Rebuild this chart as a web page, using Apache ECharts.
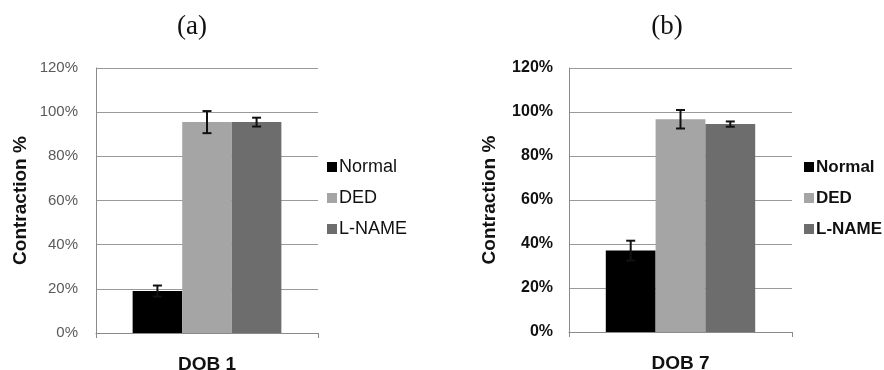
<!DOCTYPE html>
<html>
<head>
<meta charset="utf-8">
<script src="https://cdn.jsdelivr.net/npm/echarts@6/dist/echarts.min.js"></script>
<style>
  html, body { margin: 0; padding: 0; background: #fff; }
  #chart { width: 884px; height: 370px; }
</style>
</head>
<body>
<div id="chart"></div>
<script>
// data
const seriesNames = ["Normal", "DED", "L-NAME"];
const colors = ["#000000", "#a5a5a5", "#6d6d6d"];
const categoriesA = ["DOB 1"];
const categoriesB = ["DOB 7"];
const valuesA = [19, 95.5, 95.5];
const errorsA = [2.5, 5, 2];
const valuesB = [37, 96.7, 94.5];
const errorsB = [4.5, 4.2, 1.2];
const yTicks = [0, 20, 40, 60, 80, 100, 120];

const chart = echarts.init(document.getElementById("chart"));

const barGapRatio = 0.33;

function errorSeries(axisIdx, idx, value, err) {
  return {
    type: "custom",
    xAxisIndex: axisIdx,
    yAxisIndex: axisIdx,
    z: 10,
    silent: true,
    data: [[0, value, err]],
    encode: { x: 0, y: 1 },
    renderItem: function (params, api) {
      const band = api.size([1, 0])[0];
      const barW = band * (1 - barGapRatio) / seriesNames.length;
      const center = api.coord([api.value(0), 0])[0];
      const x = center + (idx - 1) * barW;
      const hi = api.coord([api.value(0), api.value(1) + api.value(2)])[1];
      const lo = api.coord([api.value(0), api.value(1) - api.value(2)])[1];
      const cap = 4.5;
      const st = { stroke: "#111", lineWidth: 2 };
      return {
        type: "group",
        children: [
          { type: "line", shape: { x1: x, y1: hi, x2: x, y2: lo }, style: st },
          { type: "line", shape: { x1: x - cap, y1: hi, x2: x + cap, y2: hi }, style: st },
          { type: "line", shape: { x1: x - cap, y1: lo, x2: x + cap, y2: lo }, style: st },
        ],
      };
    },
  };
}

function barSeries(axisIdx, values) {
  return seriesNames.map((name, i) => ({
    name: name,
    type: "bar",
    xAxisIndex: axisIdx,
    yAxisIndex: axisIdx,
    barGap: "0%",
    barCategoryGap: "33%",
    itemStyle: { color: colors[i] },
    data: [values[i]],
  }));
}

function yAxis(gridIdx, bold, labelColor, margin, nameGap) {
  return {
    type: "value",
    gridIndex: gridIdx,
    min: yTicks[0],
    max: yTicks[yTicks.length - 1],
    interval: 20,
    name: "Contraction %",
    nameLocation: "middle",
    nameGap: nameGap,
    nameTextStyle: {
      fontFamily: "Liberation Sans",
      fontWeight: "bold",
      fontSize: 19,
      color: "#111",
    },
    axisLine: { show: true, lineStyle: { color: "#8a8a8a", width: 1 } },
    axisTick: { show: false },
    axisLabel: {
      formatter: "{value}%",
      fontFamily: "Liberation Sans",
      fontSize: bold ? 16 : 15,
      fontWeight: bold ? "bold" : "normal",
      color: labelColor,
      margin: margin,
    },
    splitLine: { lineStyle: { color: "#9a9a9a", width: 1 } },
  };
}

function xAxis(gridIdx, cats) {
  return {
    type: "category",
    gridIndex: gridIdx,
    data: cats,
    axisLine: { lineStyle: { color: "#8a8a8a", width: 1 } },
    axisTick: { show: true, length: 5, lineStyle: { color: "#8a8a8a" } },
    axisLabel: {
      fontFamily: "Liberation Sans",
      fontWeight: "bold",
      fontSize: 19,
      color: "#111",
      margin: 22,
    },
  };
}

function legend(left, bold, fontSize) {
  return {
    orient: "vertical",
    left: left,
    top: 153,
    itemWidth: 10,
    itemHeight: 10,
    itemGap: 13,
    icon: "rect",
    selectedMode: false,
    data: seriesNames,
    textStyle: {
      fontFamily: "Liberation Sans",
      fontSize: fontSize,
      fontWeight: bold ? "bold" : "normal",
      color: "#111",
      padding: [0, 0, 0, -3],
      lineHeight: 18,
    },
  };
}

const titleFont = "27px 'Liberation Serif'";

const option = {
  animation: false,
  backgroundColor: "#fff",
  grid: [
    { left: 96, right: 566, top: 68, bottom: 37, outerBoundsMode: "none" },
    { left: 569, right: 92, top: 68, bottom: 38, outerBoundsMode: "none" },
  ],
  xAxis: [xAxis(0, categoriesA), xAxis(1, categoriesB)],
  yAxis: [
    yAxis(0, false, "#5a5a5a", 18, 66),
    yAxis(1, true, "#111", 16, 70),
  ],
  legend: [legend(322, false, 18), legend(799, true, 17)],
  graphic: [
    {
      type: "text", x: 192, y: 27,
      style: { text: "(a)", font: titleFont, fill: "#111", align: "center", verticalAlign: "middle" },
    },
    {
      type: "text", x: 667, y: 27,
      style: { text: "(b)", font: titleFont, fill: "#111", align: "center", verticalAlign: "middle" },
    },
  ],
  series: [
    ...barSeries(0, valuesA),
    ...barSeries(1, valuesB),
    ...seriesNames.map((n, i) => errorSeries(0, i, valuesA[i], errorsA[i])),
    ...seriesNames.map((n, i) => errorSeries(1, i, valuesB[i], errorsB[i])),
  ],
};

chart.setOption(option);
</script>
</body>
</html>
